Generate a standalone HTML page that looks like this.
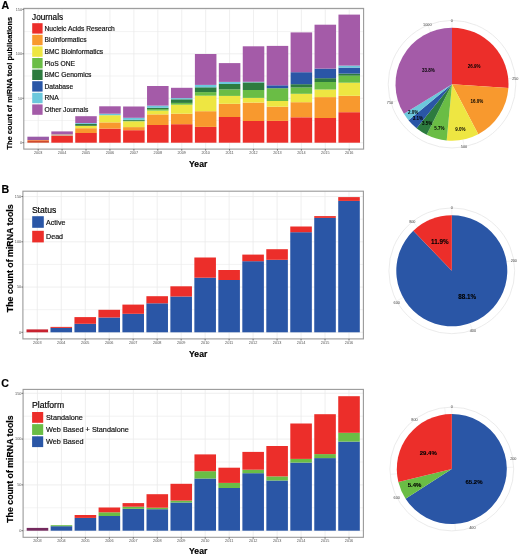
<!DOCTYPE html>
<html><head><meta charset="utf-8"><style>
html,body{margin:0;padding:0;background:#fff;}
body{width:520px;height:556px;overflow:hidden;font-family:"Liberation Sans", sans-serif;}
svg{display:block;filter:blur(0.3px);}
</style></head><body>
<svg width="520" height="556" viewBox="0 0 520 556" font-family='"Liberation Sans", sans-serif'>
<rect width="520" height="556" fill="#fff"/>
<text x="1.50" y="9.00" font-size="10.6" fill="#000" stroke="#000" stroke-width="0.18" text-anchor="start" font-weight="bold" >A</text>
<text x="1.60" y="192.90" font-size="10.6" fill="#000" stroke="#000" stroke-width="0.18" text-anchor="start" font-weight="bold" >B</text>
<text x="1.30" y="387.30" font-size="10.6" fill="#000" stroke="#000" stroke-width="0.18" text-anchor="start" font-weight="bold" >C</text>
<line x1="23.80" y1="120.47" x2="363.60" y2="120.47" stroke="#ebebeb" stroke-width="0.6"/>
<line x1="23.80" y1="76.02" x2="363.60" y2="76.02" stroke="#ebebeb" stroke-width="0.6"/>
<line x1="23.80" y1="31.57" x2="363.60" y2="31.57" stroke="#ebebeb" stroke-width="0.6"/>
<line x1="23.80" y1="142.70" x2="363.60" y2="142.70" stroke="#ebebeb" stroke-width="0.8"/>
<line x1="23.80" y1="98.25" x2="363.60" y2="98.25" stroke="#ebebeb" stroke-width="0.8"/>
<line x1="23.80" y1="53.80" x2="363.60" y2="53.80" stroke="#ebebeb" stroke-width="0.8"/>
<line x1="23.80" y1="9.35" x2="363.60" y2="9.35" stroke="#ebebeb" stroke-width="0.8"/>
<line x1="38.16" y1="8.40" x2="38.16" y2="149.10" stroke="#ebebeb" stroke-width="0.8"/>
<line x1="62.09" y1="8.40" x2="62.09" y2="149.10" stroke="#ebebeb" stroke-width="0.8"/>
<line x1="86.02" y1="8.40" x2="86.02" y2="149.10" stroke="#ebebeb" stroke-width="0.8"/>
<line x1="109.95" y1="8.40" x2="109.95" y2="149.10" stroke="#ebebeb" stroke-width="0.8"/>
<line x1="133.88" y1="8.40" x2="133.88" y2="149.10" stroke="#ebebeb" stroke-width="0.8"/>
<line x1="157.81" y1="8.40" x2="157.81" y2="149.10" stroke="#ebebeb" stroke-width="0.8"/>
<line x1="181.74" y1="8.40" x2="181.74" y2="149.10" stroke="#ebebeb" stroke-width="0.8"/>
<line x1="205.66" y1="8.40" x2="205.66" y2="149.10" stroke="#ebebeb" stroke-width="0.8"/>
<line x1="229.59" y1="8.40" x2="229.59" y2="149.10" stroke="#ebebeb" stroke-width="0.8"/>
<line x1="253.52" y1="8.40" x2="253.52" y2="149.10" stroke="#ebebeb" stroke-width="0.8"/>
<line x1="277.45" y1="8.40" x2="277.45" y2="149.10" stroke="#ebebeb" stroke-width="0.8"/>
<line x1="301.38" y1="8.40" x2="301.38" y2="149.10" stroke="#ebebeb" stroke-width="0.8"/>
<line x1="325.31" y1="8.40" x2="325.31" y2="149.10" stroke="#ebebeb" stroke-width="0.8"/>
<line x1="349.24" y1="8.40" x2="349.24" y2="149.10" stroke="#ebebeb" stroke-width="0.8"/>
<rect x="27.39" y="141.00" width="21.54" height="1.70" fill="#D04A2C" />
<rect x="27.39" y="140.00" width="21.54" height="1.00" fill="#F08A5A" />
<rect x="27.39" y="136.70" width="21.54" height="3.30" fill="#9A5CA8" />
<rect x="51.32" y="135.90" width="21.54" height="6.80" fill="#EC2E2A" />
<rect x="51.32" y="134.25" width="21.54" height="1.65" fill="#CDA48C" />
<rect x="51.32" y="131.40" width="21.54" height="2.85" fill="#A45BA8" />
<rect x="75.25" y="133.00" width="21.54" height="9.70" fill="#EC2E2A" />
<rect x="75.25" y="128.20" width="21.54" height="4.80" fill="#F8992E" />
<rect x="75.25" y="125.80" width="21.54" height="2.40" fill="#EEE642" />
<rect x="75.25" y="124.00" width="21.54" height="1.80" fill="#2D7B3F" />
<rect x="75.25" y="123.10" width="21.54" height="0.90" fill="#6CC8DC" />
<rect x="75.25" y="116.20" width="21.54" height="6.90" fill="#A45BA8" />
<rect x="99.18" y="128.70" width="21.54" height="14.00" fill="#EC2E2A" />
<rect x="99.18" y="122.40" width="21.54" height="6.30" fill="#F8992E" />
<rect x="99.18" y="115.20" width="21.54" height="7.20" fill="#EEE642" />
<rect x="99.18" y="113.70" width="21.54" height="1.50" fill="#6CC8DC" />
<rect x="99.18" y="106.30" width="21.54" height="7.40" fill="#A45BA8" />
<rect x="123.11" y="130.20" width="21.54" height="12.50" fill="#EC2E2A" />
<rect x="123.11" y="127.10" width="21.54" height="3.10" fill="#F8992E" />
<rect x="123.11" y="121.30" width="21.54" height="5.80" fill="#EEE642" />
<rect x="123.11" y="120.80" width="21.54" height="0.50" fill="#6ABD45" />
<rect x="123.11" y="119.80" width="21.54" height="1.00" fill="#2D7B3F" />
<rect x="123.11" y="117.80" width="21.54" height="2.00" fill="#6CC8DC" />
<rect x="123.11" y="106.50" width="21.54" height="11.30" fill="#A45BA8" />
<rect x="147.04" y="125.00" width="21.54" height="17.70" fill="#EC2E2A" />
<rect x="147.04" y="114.40" width="21.54" height="10.60" fill="#F8992E" />
<rect x="147.04" y="110.60" width="21.54" height="3.80" fill="#EEE642" />
<rect x="147.04" y="109.10" width="21.54" height="1.50" fill="#6ABD45" />
<rect x="147.04" y="107.70" width="21.54" height="1.40" fill="#2D7B3F" />
<rect x="147.04" y="105.60" width="21.54" height="2.10" fill="#6CC8DC" />
<rect x="147.04" y="86.00" width="21.54" height="19.60" fill="#A45BA8" />
<rect x="170.97" y="124.20" width="21.54" height="18.50" fill="#EC2E2A" />
<rect x="170.97" y="113.70" width="21.54" height="10.50" fill="#F8992E" />
<rect x="170.97" y="104.70" width="21.54" height="9.00" fill="#EEE642" />
<rect x="170.97" y="102.90" width="21.54" height="1.80" fill="#6ABD45" />
<rect x="170.97" y="99.30" width="21.54" height="3.60" fill="#2D7B3F" />
<rect x="170.97" y="98.10" width="21.54" height="1.20" fill="#6CC8DC" />
<rect x="170.97" y="87.80" width="21.54" height="10.30" fill="#A45BA8" />
<rect x="194.90" y="126.90" width="21.54" height="15.80" fill="#EC2E2A" />
<rect x="194.90" y="111.20" width="21.54" height="15.70" fill="#F8992E" />
<rect x="194.90" y="95.70" width="21.54" height="15.50" fill="#EEE642" />
<rect x="194.90" y="92.10" width="21.54" height="3.60" fill="#6ABD45" />
<rect x="194.90" y="87.30" width="21.54" height="4.80" fill="#2D7B3F" />
<rect x="194.90" y="84.90" width="21.54" height="2.40" fill="#6CC8DC" />
<rect x="194.90" y="54.00" width="21.54" height="30.90" fill="#A45BA8" />
<rect x="218.83" y="117.00" width="21.54" height="25.70" fill="#EC2E2A" />
<rect x="218.83" y="103.80" width="21.54" height="13.20" fill="#F8992E" />
<rect x="218.83" y="95.90" width="21.54" height="7.90" fill="#EEE642" />
<rect x="218.83" y="89.40" width="21.54" height="6.50" fill="#6ABD45" />
<rect x="218.83" y="84.00" width="21.54" height="5.40" fill="#2D7B3F" />
<rect x="218.83" y="81.90" width="21.54" height="2.10" fill="#6CC8DC" />
<rect x="218.83" y="63.10" width="21.54" height="18.80" fill="#A45BA8" />
<rect x="242.76" y="121.00" width="21.54" height="21.70" fill="#EC2E2A" />
<rect x="242.76" y="102.60" width="21.54" height="18.40" fill="#F8992E" />
<rect x="242.76" y="97.90" width="21.54" height="4.70" fill="#EEE642" />
<rect x="242.76" y="90.00" width="21.54" height="7.90" fill="#6ABD45" />
<rect x="242.76" y="82.40" width="21.54" height="7.60" fill="#2D7B3F" />
<rect x="242.76" y="81.80" width="21.54" height="0.60" fill="#6CC8DC" />
<rect x="242.76" y="46.30" width="21.54" height="35.50" fill="#A45BA8" />
<rect x="266.69" y="120.90" width="21.54" height="21.80" fill="#EC2E2A" />
<rect x="266.69" y="106.70" width="21.54" height="14.20" fill="#F8992E" />
<rect x="266.69" y="101.00" width="21.54" height="5.70" fill="#EEE642" />
<rect x="266.69" y="88.20" width="21.54" height="12.80" fill="#6ABD45" />
<rect x="266.69" y="85.30" width="21.54" height="2.90" fill="#2A56A6" />
<rect x="266.69" y="45.90" width="21.54" height="39.40" fill="#A45BA8" />
<rect x="290.61" y="117.30" width="21.54" height="25.40" fill="#EC2E2A" />
<rect x="290.61" y="102.20" width="21.54" height="15.10" fill="#F8992E" />
<rect x="290.61" y="93.80" width="21.54" height="8.40" fill="#EEE642" />
<rect x="290.61" y="87.50" width="21.54" height="6.30" fill="#6ABD45" />
<rect x="290.61" y="84.20" width="21.54" height="3.30" fill="#2D7B3F" />
<rect x="290.61" y="72.20" width="21.54" height="12.00" fill="#2A56A6" />
<rect x="290.61" y="32.40" width="21.54" height="39.80" fill="#A45BA8" />
<rect x="314.54" y="118.00" width="21.54" height="24.70" fill="#EC2E2A" />
<rect x="314.54" y="97.10" width="21.54" height="20.90" fill="#F8992E" />
<rect x="314.54" y="89.50" width="21.54" height="7.60" fill="#EEE642" />
<rect x="314.54" y="82.00" width="21.54" height="7.50" fill="#6ABD45" />
<rect x="314.54" y="78.20" width="21.54" height="3.80" fill="#2D7B3F" />
<rect x="314.54" y="68.60" width="21.54" height="9.60" fill="#2A56A6" />
<rect x="314.54" y="24.70" width="21.54" height="43.90" fill="#A45BA8" />
<rect x="338.47" y="112.20" width="21.54" height="30.50" fill="#EC2E2A" />
<rect x="338.47" y="95.80" width="21.54" height="16.40" fill="#F8992E" />
<rect x="338.47" y="82.70" width="21.54" height="13.10" fill="#EEE642" />
<rect x="338.47" y="75.70" width="21.54" height="7.00" fill="#6ABD45" />
<rect x="338.47" y="73.60" width="21.54" height="2.10" fill="#2D7B3F" />
<rect x="338.47" y="67.60" width="21.54" height="6.00" fill="#2A56A6" />
<rect x="338.47" y="65.60" width="21.54" height="2.00" fill="#6CC8DC" />
<rect x="338.47" y="14.60" width="21.54" height="51.00" fill="#A45BA8" />
<rect x="23.80" y="8.40" width="339.80" height="140.70" fill="none" stroke="#9a9a9a" stroke-width="1.1"/>
<line x1="22.20" y1="142.70" x2="23.80" y2="142.70" stroke="#444" stroke-width="0.7"/>
<text x="22.10" y="144.05" font-size="3.8" fill="#555" text-anchor="end" font-weight="normal" >0</text>
<line x1="22.20" y1="98.25" x2="23.80" y2="98.25" stroke="#444" stroke-width="0.7"/>
<text x="22.10" y="99.60" font-size="3.8" fill="#555" text-anchor="end" font-weight="normal" >50</text>
<line x1="22.20" y1="53.80" x2="23.80" y2="53.80" stroke="#444" stroke-width="0.7"/>
<text x="22.10" y="55.15" font-size="3.8" fill="#555" text-anchor="end" font-weight="normal" >100</text>
<line x1="22.20" y1="9.35" x2="23.80" y2="9.35" stroke="#444" stroke-width="0.7"/>
<text x="22.10" y="10.70" font-size="3.8" fill="#555" text-anchor="end" font-weight="normal" >150</text>
<line x1="38.16" y1="149.10" x2="38.16" y2="150.70" stroke="#444" stroke-width="0.7"/>
<text x="38.16" y="153.85" font-size="3.8" fill="#555" text-anchor="middle" font-weight="normal" >2003</text>
<line x1="62.09" y1="149.10" x2="62.09" y2="150.70" stroke="#444" stroke-width="0.7"/>
<text x="62.09" y="153.85" font-size="3.8" fill="#555" text-anchor="middle" font-weight="normal" >2004</text>
<line x1="86.02" y1="149.10" x2="86.02" y2="150.70" stroke="#444" stroke-width="0.7"/>
<text x="86.02" y="153.85" font-size="3.8" fill="#555" text-anchor="middle" font-weight="normal" >2005</text>
<line x1="109.95" y1="149.10" x2="109.95" y2="150.70" stroke="#444" stroke-width="0.7"/>
<text x="109.95" y="153.85" font-size="3.8" fill="#555" text-anchor="middle" font-weight="normal" >2006</text>
<line x1="133.88" y1="149.10" x2="133.88" y2="150.70" stroke="#444" stroke-width="0.7"/>
<text x="133.88" y="153.85" font-size="3.8" fill="#555" text-anchor="middle" font-weight="normal" >2007</text>
<line x1="157.81" y1="149.10" x2="157.81" y2="150.70" stroke="#444" stroke-width="0.7"/>
<text x="157.81" y="153.85" font-size="3.8" fill="#555" text-anchor="middle" font-weight="normal" >2008</text>
<line x1="181.74" y1="149.10" x2="181.74" y2="150.70" stroke="#444" stroke-width="0.7"/>
<text x="181.74" y="153.85" font-size="3.8" fill="#555" text-anchor="middle" font-weight="normal" >2009</text>
<line x1="205.66" y1="149.10" x2="205.66" y2="150.70" stroke="#444" stroke-width="0.7"/>
<text x="205.66" y="153.85" font-size="3.8" fill="#555" text-anchor="middle" font-weight="normal" >2010</text>
<line x1="229.59" y1="149.10" x2="229.59" y2="150.70" stroke="#444" stroke-width="0.7"/>
<text x="229.59" y="153.85" font-size="3.8" fill="#555" text-anchor="middle" font-weight="normal" >2011</text>
<line x1="253.52" y1="149.10" x2="253.52" y2="150.70" stroke="#444" stroke-width="0.7"/>
<text x="253.52" y="153.85" font-size="3.8" fill="#555" text-anchor="middle" font-weight="normal" >2012</text>
<line x1="277.45" y1="149.10" x2="277.45" y2="150.70" stroke="#444" stroke-width="0.7"/>
<text x="277.45" y="153.85" font-size="3.8" fill="#555" text-anchor="middle" font-weight="normal" >2013</text>
<line x1="301.38" y1="149.10" x2="301.38" y2="150.70" stroke="#444" stroke-width="0.7"/>
<text x="301.38" y="153.85" font-size="3.8" fill="#555" text-anchor="middle" font-weight="normal" >2014</text>
<line x1="325.31" y1="149.10" x2="325.31" y2="150.70" stroke="#444" stroke-width="0.7"/>
<text x="325.31" y="153.85" font-size="3.8" fill="#555" text-anchor="middle" font-weight="normal" >2015</text>
<line x1="349.24" y1="149.10" x2="349.24" y2="150.70" stroke="#444" stroke-width="0.7"/>
<text x="349.24" y="153.85" font-size="3.8" fill="#555" text-anchor="middle" font-weight="normal" >2016</text>
<text x="0.00" y="0.00" font-size="7.45" fill="#000" stroke="#000" stroke-width="0.18" text-anchor="middle" font-weight="bold" transform="translate(12.30,83.15) rotate(-90)">The count of miRNA tool publications</text>
<line x1="22.90" y1="309.68" x2="363.40" y2="309.68" stroke="#ebebeb" stroke-width="0.6"/>
<line x1="22.90" y1="264.43" x2="363.40" y2="264.43" stroke="#ebebeb" stroke-width="0.6"/>
<line x1="22.90" y1="219.18" x2="363.40" y2="219.18" stroke="#ebebeb" stroke-width="0.6"/>
<line x1="22.90" y1="332.30" x2="363.40" y2="332.30" stroke="#ebebeb" stroke-width="0.8"/>
<line x1="22.90" y1="287.05" x2="363.40" y2="287.05" stroke="#ebebeb" stroke-width="0.8"/>
<line x1="22.90" y1="241.80" x2="363.40" y2="241.80" stroke="#ebebeb" stroke-width="0.8"/>
<line x1="22.90" y1="196.55" x2="363.40" y2="196.55" stroke="#ebebeb" stroke-width="0.8"/>
<line x1="37.29" y1="191.20" x2="37.29" y2="338.90" stroke="#ebebeb" stroke-width="0.8"/>
<line x1="61.27" y1="191.20" x2="61.27" y2="338.90" stroke="#ebebeb" stroke-width="0.8"/>
<line x1="85.25" y1="191.20" x2="85.25" y2="338.90" stroke="#ebebeb" stroke-width="0.8"/>
<line x1="109.22" y1="191.20" x2="109.22" y2="338.90" stroke="#ebebeb" stroke-width="0.8"/>
<line x1="133.20" y1="191.20" x2="133.20" y2="338.90" stroke="#ebebeb" stroke-width="0.8"/>
<line x1="157.18" y1="191.20" x2="157.18" y2="338.90" stroke="#ebebeb" stroke-width="0.8"/>
<line x1="181.16" y1="191.20" x2="181.16" y2="338.90" stroke="#ebebeb" stroke-width="0.8"/>
<line x1="205.14" y1="191.20" x2="205.14" y2="338.90" stroke="#ebebeb" stroke-width="0.8"/>
<line x1="229.12" y1="191.20" x2="229.12" y2="338.90" stroke="#ebebeb" stroke-width="0.8"/>
<line x1="253.10" y1="191.20" x2="253.10" y2="338.90" stroke="#ebebeb" stroke-width="0.8"/>
<line x1="277.08" y1="191.20" x2="277.08" y2="338.90" stroke="#ebebeb" stroke-width="0.8"/>
<line x1="301.05" y1="191.20" x2="301.05" y2="338.90" stroke="#ebebeb" stroke-width="0.8"/>
<line x1="325.03" y1="191.20" x2="325.03" y2="338.90" stroke="#ebebeb" stroke-width="0.8"/>
<line x1="349.01" y1="191.20" x2="349.01" y2="338.90" stroke="#ebebeb" stroke-width="0.8"/>
<rect x="26.50" y="329.40" width="21.58" height="2.90" fill="#C8222F" />
<rect x="50.48" y="327.90" width="21.58" height="4.40" fill="#2A56A6" />
<rect x="50.48" y="326.90" width="21.58" height="1.00" fill="#EC2E2A" />
<rect x="74.45" y="323.80" width="21.58" height="8.50" fill="#2A56A6" />
<rect x="74.45" y="317.10" width="21.58" height="6.70" fill="#EC2E2A" />
<rect x="98.43" y="317.50" width="21.58" height="14.80" fill="#2A56A6" />
<rect x="98.43" y="309.80" width="21.58" height="7.70" fill="#EC2E2A" />
<rect x="122.41" y="313.80" width="21.58" height="18.50" fill="#2A56A6" />
<rect x="122.41" y="304.60" width="21.58" height="9.20" fill="#EC2E2A" />
<rect x="146.39" y="303.30" width="21.58" height="29.00" fill="#2A56A6" />
<rect x="146.39" y="296.20" width="21.58" height="7.10" fill="#EC2E2A" />
<rect x="170.37" y="296.50" width="21.58" height="35.80" fill="#2A56A6" />
<rect x="170.37" y="286.30" width="21.58" height="10.20" fill="#EC2E2A" />
<rect x="194.35" y="277.70" width="21.58" height="54.60" fill="#2A56A6" />
<rect x="194.35" y="257.50" width="21.58" height="20.20" fill="#EC2E2A" />
<rect x="218.33" y="280.00" width="21.58" height="52.30" fill="#2A56A6" />
<rect x="218.33" y="270.00" width="21.58" height="10.00" fill="#EC2E2A" />
<rect x="242.31" y="261.20" width="21.58" height="71.10" fill="#2A56A6" />
<rect x="242.31" y="254.60" width="21.58" height="6.60" fill="#EC2E2A" />
<rect x="266.29" y="259.80" width="21.58" height="72.50" fill="#2A56A6" />
<rect x="266.29" y="249.20" width="21.58" height="10.60" fill="#EC2E2A" />
<rect x="290.26" y="232.20" width="21.58" height="100.10" fill="#2A56A6" />
<rect x="290.26" y="226.50" width="21.58" height="5.70" fill="#EC2E2A" />
<rect x="314.24" y="217.90" width="21.58" height="114.40" fill="#2A56A6" />
<rect x="314.24" y="216.10" width="21.58" height="1.80" fill="#EC2E2A" />
<rect x="338.22" y="200.90" width="21.58" height="131.40" fill="#2A56A6" />
<rect x="338.22" y="197.10" width="21.58" height="3.80" fill="#EC2E2A" />
<rect x="22.90" y="191.20" width="340.50" height="147.70" fill="none" stroke="#9a9a9a" stroke-width="1.1"/>
<line x1="21.30" y1="332.30" x2="22.90" y2="332.30" stroke="#444" stroke-width="0.7"/>
<text x="21.20" y="333.65" font-size="3.8" fill="#555" text-anchor="end" font-weight="normal" >0</text>
<line x1="21.30" y1="287.05" x2="22.90" y2="287.05" stroke="#444" stroke-width="0.7"/>
<text x="21.20" y="288.40" font-size="3.8" fill="#555" text-anchor="end" font-weight="normal" >50</text>
<line x1="21.30" y1="241.80" x2="22.90" y2="241.80" stroke="#444" stroke-width="0.7"/>
<text x="21.20" y="243.15" font-size="3.8" fill="#555" text-anchor="end" font-weight="normal" >100</text>
<line x1="21.30" y1="196.55" x2="22.90" y2="196.55" stroke="#444" stroke-width="0.7"/>
<text x="21.20" y="197.90" font-size="3.8" fill="#555" text-anchor="end" font-weight="normal" >150</text>
<line x1="37.29" y1="338.90" x2="37.29" y2="340.50" stroke="#444" stroke-width="0.7"/>
<text x="37.29" y="343.65" font-size="3.8" fill="#555" text-anchor="middle" font-weight="normal" >2003</text>
<line x1="61.27" y1="338.90" x2="61.27" y2="340.50" stroke="#444" stroke-width="0.7"/>
<text x="61.27" y="343.65" font-size="3.8" fill="#555" text-anchor="middle" font-weight="normal" >2004</text>
<line x1="85.25" y1="338.90" x2="85.25" y2="340.50" stroke="#444" stroke-width="0.7"/>
<text x="85.25" y="343.65" font-size="3.8" fill="#555" text-anchor="middle" font-weight="normal" >2005</text>
<line x1="109.22" y1="338.90" x2="109.22" y2="340.50" stroke="#444" stroke-width="0.7"/>
<text x="109.22" y="343.65" font-size="3.8" fill="#555" text-anchor="middle" font-weight="normal" >2006</text>
<line x1="133.20" y1="338.90" x2="133.20" y2="340.50" stroke="#444" stroke-width="0.7"/>
<text x="133.20" y="343.65" font-size="3.8" fill="#555" text-anchor="middle" font-weight="normal" >2007</text>
<line x1="157.18" y1="338.90" x2="157.18" y2="340.50" stroke="#444" stroke-width="0.7"/>
<text x="157.18" y="343.65" font-size="3.8" fill="#555" text-anchor="middle" font-weight="normal" >2008</text>
<line x1="181.16" y1="338.90" x2="181.16" y2="340.50" stroke="#444" stroke-width="0.7"/>
<text x="181.16" y="343.65" font-size="3.8" fill="#555" text-anchor="middle" font-weight="normal" >2009</text>
<line x1="205.14" y1="338.90" x2="205.14" y2="340.50" stroke="#444" stroke-width="0.7"/>
<text x="205.14" y="343.65" font-size="3.8" fill="#555" text-anchor="middle" font-weight="normal" >2010</text>
<line x1="229.12" y1="338.90" x2="229.12" y2="340.50" stroke="#444" stroke-width="0.7"/>
<text x="229.12" y="343.65" font-size="3.8" fill="#555" text-anchor="middle" font-weight="normal" >2011</text>
<line x1="253.10" y1="338.90" x2="253.10" y2="340.50" stroke="#444" stroke-width="0.7"/>
<text x="253.10" y="343.65" font-size="3.8" fill="#555" text-anchor="middle" font-weight="normal" >2012</text>
<line x1="277.08" y1="338.90" x2="277.08" y2="340.50" stroke="#444" stroke-width="0.7"/>
<text x="277.08" y="343.65" font-size="3.8" fill="#555" text-anchor="middle" font-weight="normal" >2013</text>
<line x1="301.05" y1="338.90" x2="301.05" y2="340.50" stroke="#444" stroke-width="0.7"/>
<text x="301.05" y="343.65" font-size="3.8" fill="#555" text-anchor="middle" font-weight="normal" >2014</text>
<line x1="325.03" y1="338.90" x2="325.03" y2="340.50" stroke="#444" stroke-width="0.7"/>
<text x="325.03" y="343.65" font-size="3.8" fill="#555" text-anchor="middle" font-weight="normal" >2015</text>
<line x1="349.01" y1="338.90" x2="349.01" y2="340.50" stroke="#444" stroke-width="0.7"/>
<text x="349.01" y="343.65" font-size="3.8" fill="#555" text-anchor="middle" font-weight="normal" >2016</text>
<text x="0.00" y="0.00" font-size="8.82" fill="#000" stroke="#000" stroke-width="0.18" text-anchor="middle" font-weight="bold" transform="translate(12.60,258.30) rotate(-90)">The count of miRNA tools</text>
<line x1="23.10" y1="507.80" x2="363.40" y2="507.80" stroke="#ebebeb" stroke-width="0.6"/>
<line x1="23.10" y1="462.00" x2="363.40" y2="462.00" stroke="#ebebeb" stroke-width="0.6"/>
<line x1="23.10" y1="416.20" x2="363.40" y2="416.20" stroke="#ebebeb" stroke-width="0.6"/>
<line x1="23.10" y1="530.70" x2="363.40" y2="530.70" stroke="#ebebeb" stroke-width="0.8"/>
<line x1="23.10" y1="484.90" x2="363.40" y2="484.90" stroke="#ebebeb" stroke-width="0.8"/>
<line x1="23.10" y1="439.10" x2="363.40" y2="439.10" stroke="#ebebeb" stroke-width="0.8"/>
<line x1="23.10" y1="393.30" x2="363.40" y2="393.30" stroke="#ebebeb" stroke-width="0.8"/>
<line x1="37.48" y1="389.40" x2="37.48" y2="537.30" stroke="#ebebeb" stroke-width="0.8"/>
<line x1="61.44" y1="389.40" x2="61.44" y2="537.30" stroke="#ebebeb" stroke-width="0.8"/>
<line x1="85.41" y1="389.40" x2="85.41" y2="537.30" stroke="#ebebeb" stroke-width="0.8"/>
<line x1="109.37" y1="389.40" x2="109.37" y2="537.30" stroke="#ebebeb" stroke-width="0.8"/>
<line x1="133.34" y1="389.40" x2="133.34" y2="537.30" stroke="#ebebeb" stroke-width="0.8"/>
<line x1="157.30" y1="389.40" x2="157.30" y2="537.30" stroke="#ebebeb" stroke-width="0.8"/>
<line x1="181.27" y1="389.40" x2="181.27" y2="537.30" stroke="#ebebeb" stroke-width="0.8"/>
<line x1="205.23" y1="389.40" x2="205.23" y2="537.30" stroke="#ebebeb" stroke-width="0.8"/>
<line x1="229.20" y1="389.40" x2="229.20" y2="537.30" stroke="#ebebeb" stroke-width="0.8"/>
<line x1="253.16" y1="389.40" x2="253.16" y2="537.30" stroke="#ebebeb" stroke-width="0.8"/>
<line x1="277.13" y1="389.40" x2="277.13" y2="537.30" stroke="#ebebeb" stroke-width="0.8"/>
<line x1="301.09" y1="389.40" x2="301.09" y2="537.30" stroke="#ebebeb" stroke-width="0.8"/>
<line x1="325.06" y1="389.40" x2="325.06" y2="537.30" stroke="#ebebeb" stroke-width="0.8"/>
<line x1="349.02" y1="389.40" x2="349.02" y2="537.30" stroke="#ebebeb" stroke-width="0.8"/>
<rect x="26.69" y="527.90" width="21.57" height="2.80" fill="#742A5E" />
<rect x="50.66" y="526.20" width="21.57" height="4.50" fill="#2A56A6" />
<rect x="50.66" y="525.20" width="21.57" height="1.00" fill="#6ABD45" />
<rect x="74.62" y="517.90" width="21.57" height="12.80" fill="#2A56A6" />
<rect x="74.62" y="515.00" width="21.57" height="2.90" fill="#EC2E2A" />
<rect x="98.59" y="516.00" width="21.57" height="14.70" fill="#2A56A6" />
<rect x="98.59" y="512.30" width="21.57" height="3.70" fill="#6ABD45" />
<rect x="98.59" y="507.50" width="21.57" height="4.80" fill="#EC2E2A" />
<rect x="122.55" y="508.80" width="21.57" height="21.90" fill="#2A56A6" />
<rect x="122.55" y="506.70" width="21.57" height="2.10" fill="#6ABD45" />
<rect x="122.55" y="503.10" width="21.57" height="3.60" fill="#EC2E2A" />
<rect x="146.52" y="509.20" width="21.57" height="21.50" fill="#2A56A6" />
<rect x="146.52" y="507.70" width="21.57" height="1.50" fill="#6ABD45" />
<rect x="146.52" y="494.20" width="21.57" height="13.50" fill="#EC2E2A" />
<rect x="170.48" y="502.50" width="21.57" height="28.20" fill="#2A56A6" />
<rect x="170.48" y="500.60" width="21.57" height="1.90" fill="#6ABD45" />
<rect x="170.48" y="483.80" width="21.57" height="16.80" fill="#EC2E2A" />
<rect x="194.45" y="478.50" width="21.57" height="52.20" fill="#2A56A6" />
<rect x="194.45" y="471.20" width="21.57" height="7.30" fill="#6ABD45" />
<rect x="194.45" y="454.40" width="21.57" height="16.80" fill="#EC2E2A" />
<rect x="218.41" y="488.00" width="21.57" height="42.70" fill="#2A56A6" />
<rect x="218.41" y="482.90" width="21.57" height="5.10" fill="#6ABD45" />
<rect x="218.41" y="467.70" width="21.57" height="15.20" fill="#EC2E2A" />
<rect x="242.38" y="473.20" width="21.57" height="57.50" fill="#2A56A6" />
<rect x="242.38" y="469.70" width="21.57" height="3.50" fill="#6ABD45" />
<rect x="242.38" y="451.90" width="21.57" height="17.80" fill="#EC2E2A" />
<rect x="266.34" y="480.50" width="21.57" height="50.20" fill="#2A56A6" />
<rect x="266.34" y="476.40" width="21.57" height="4.10" fill="#6ABD45" />
<rect x="266.34" y="446.00" width="21.57" height="30.40" fill="#EC2E2A" />
<rect x="290.31" y="462.60" width="21.57" height="68.10" fill="#2A56A6" />
<rect x="290.31" y="458.90" width="21.57" height="3.70" fill="#6ABD45" />
<rect x="290.31" y="423.50" width="21.57" height="35.40" fill="#EC2E2A" />
<rect x="314.27" y="458.10" width="21.57" height="72.60" fill="#2A56A6" />
<rect x="314.27" y="454.10" width="21.57" height="4.00" fill="#6ABD45" />
<rect x="314.27" y="414.20" width="21.57" height="39.90" fill="#EC2E2A" />
<rect x="338.24" y="441.60" width="21.57" height="89.10" fill="#2A56A6" />
<rect x="338.24" y="432.80" width="21.57" height="8.80" fill="#6ABD45" />
<rect x="338.24" y="396.20" width="21.57" height="36.60" fill="#EC2E2A" />
<rect x="23.10" y="389.40" width="340.30" height="147.90" fill="none" stroke="#9a9a9a" stroke-width="1.1"/>
<line x1="21.50" y1="530.70" x2="23.10" y2="530.70" stroke="#444" stroke-width="0.7"/>
<text x="21.40" y="532.05" font-size="3.8" fill="#555" text-anchor="end" font-weight="normal" >0</text>
<line x1="21.50" y1="484.90" x2="23.10" y2="484.90" stroke="#444" stroke-width="0.7"/>
<text x="21.40" y="486.25" font-size="3.8" fill="#555" text-anchor="end" font-weight="normal" >50</text>
<line x1="21.50" y1="439.10" x2="23.10" y2="439.10" stroke="#444" stroke-width="0.7"/>
<text x="21.40" y="440.45" font-size="3.8" fill="#555" text-anchor="end" font-weight="normal" >100</text>
<line x1="21.50" y1="393.30" x2="23.10" y2="393.30" stroke="#444" stroke-width="0.7"/>
<text x="21.40" y="394.65" font-size="3.8" fill="#555" text-anchor="end" font-weight="normal" >150</text>
<line x1="37.48" y1="537.30" x2="37.48" y2="538.90" stroke="#444" stroke-width="0.7"/>
<text x="37.48" y="542.15" font-size="3.8" fill="#555" text-anchor="middle" font-weight="normal" >2003</text>
<line x1="61.44" y1="537.30" x2="61.44" y2="538.90" stroke="#444" stroke-width="0.7"/>
<text x="61.44" y="542.15" font-size="3.8" fill="#555" text-anchor="middle" font-weight="normal" >2004</text>
<line x1="85.41" y1="537.30" x2="85.41" y2="538.90" stroke="#444" stroke-width="0.7"/>
<text x="85.41" y="542.15" font-size="3.8" fill="#555" text-anchor="middle" font-weight="normal" >2005</text>
<line x1="109.37" y1="537.30" x2="109.37" y2="538.90" stroke="#444" stroke-width="0.7"/>
<text x="109.37" y="542.15" font-size="3.8" fill="#555" text-anchor="middle" font-weight="normal" >2006</text>
<line x1="133.34" y1="537.30" x2="133.34" y2="538.90" stroke="#444" stroke-width="0.7"/>
<text x="133.34" y="542.15" font-size="3.8" fill="#555" text-anchor="middle" font-weight="normal" >2007</text>
<line x1="157.30" y1="537.30" x2="157.30" y2="538.90" stroke="#444" stroke-width="0.7"/>
<text x="157.30" y="542.15" font-size="3.8" fill="#555" text-anchor="middle" font-weight="normal" >2008</text>
<line x1="181.27" y1="537.30" x2="181.27" y2="538.90" stroke="#444" stroke-width="0.7"/>
<text x="181.27" y="542.15" font-size="3.8" fill="#555" text-anchor="middle" font-weight="normal" >2009</text>
<line x1="205.23" y1="537.30" x2="205.23" y2="538.90" stroke="#444" stroke-width="0.7"/>
<text x="205.23" y="542.15" font-size="3.8" fill="#555" text-anchor="middle" font-weight="normal" >2010</text>
<line x1="229.20" y1="537.30" x2="229.20" y2="538.90" stroke="#444" stroke-width="0.7"/>
<text x="229.20" y="542.15" font-size="3.8" fill="#555" text-anchor="middle" font-weight="normal" >2011</text>
<line x1="253.16" y1="537.30" x2="253.16" y2="538.90" stroke="#444" stroke-width="0.7"/>
<text x="253.16" y="542.15" font-size="3.8" fill="#555" text-anchor="middle" font-weight="normal" >2012</text>
<line x1="277.13" y1="537.30" x2="277.13" y2="538.90" stroke="#444" stroke-width="0.7"/>
<text x="277.13" y="542.15" font-size="3.8" fill="#555" text-anchor="middle" font-weight="normal" >2013</text>
<line x1="301.09" y1="537.30" x2="301.09" y2="538.90" stroke="#444" stroke-width="0.7"/>
<text x="301.09" y="542.15" font-size="3.8" fill="#555" text-anchor="middle" font-weight="normal" >2014</text>
<line x1="325.06" y1="537.30" x2="325.06" y2="538.90" stroke="#444" stroke-width="0.7"/>
<text x="325.06" y="542.15" font-size="3.8" fill="#555" text-anchor="middle" font-weight="normal" >2015</text>
<line x1="349.02" y1="537.30" x2="349.02" y2="538.90" stroke="#444" stroke-width="0.7"/>
<text x="349.02" y="542.15" font-size="3.8" fill="#555" text-anchor="middle" font-weight="normal" >2016</text>
<text x="0.00" y="0.00" font-size="8.78" fill="#000" stroke="#000" stroke-width="0.18" text-anchor="middle" font-weight="bold" transform="translate(12.60,469.10) rotate(-90)">The count of miRNA tools</text>
<text x="198.20" y="166.70" font-size="8.6" fill="#000" stroke="#000" stroke-width="0.18" text-anchor="middle" font-weight="bold" >Year</text>
<text x="198.20" y="356.50" font-size="8.6" fill="#000" stroke="#000" stroke-width="0.18" text-anchor="middle" font-weight="bold" >Year</text>
<text x="198.20" y="554.40" font-size="8.6" fill="#000" stroke="#000" stroke-width="0.18" text-anchor="middle" font-weight="bold" >Year</text>
<text x="32.10" y="19.60" font-size="8.2" fill="#000" stroke="#000" stroke-width="0.18" text-anchor="start" font-weight="normal" >Journals</text>
<rect x="32.20" y="23.20" width="10.40" height="10.40" fill="#EC2E2A" />
<text x="44.50" y="30.75" font-size="6.7" fill="#111" stroke="#111" stroke-width="0.18" text-anchor="start" font-weight="normal" >Nucleic Acids Research</text>
<rect x="32.20" y="34.80" width="10.40" height="10.40" fill="#F8992E" />
<text x="44.50" y="42.35" font-size="6.7" fill="#111" stroke="#111" stroke-width="0.18" text-anchor="start" font-weight="normal" >Bioinformatics</text>
<rect x="32.20" y="46.40" width="10.40" height="10.40" fill="#EEE642" />
<text x="44.50" y="53.95" font-size="6.7" fill="#111" stroke="#111" stroke-width="0.18" text-anchor="start" font-weight="normal" >BMC Bioinformatics</text>
<rect x="32.20" y="58.00" width="10.40" height="10.40" fill="#6ABD45" />
<text x="44.50" y="65.55" font-size="6.7" fill="#111" stroke="#111" stroke-width="0.18" text-anchor="start" font-weight="normal" >PloS ONE</text>
<rect x="32.20" y="69.60" width="10.40" height="10.40" fill="#2D7B3F" />
<text x="44.50" y="77.15" font-size="6.7" fill="#111" stroke="#111" stroke-width="0.18" text-anchor="start" font-weight="normal" >BMC Genomics</text>
<rect x="32.20" y="81.20" width="10.40" height="10.40" fill="#2A56A6" />
<text x="44.50" y="88.75" font-size="6.7" fill="#111" stroke="#111" stroke-width="0.18" text-anchor="start" font-weight="normal" >Database</text>
<rect x="32.20" y="92.80" width="10.40" height="10.40" fill="#6CC8DC" />
<text x="44.50" y="100.35" font-size="6.7" fill="#111" stroke="#111" stroke-width="0.18" text-anchor="start" font-weight="normal" >RNA</text>
<rect x="32.20" y="104.40" width="10.40" height="10.40" fill="#A45BA8" />
<text x="44.50" y="111.95" font-size="6.7" fill="#111" stroke="#111" stroke-width="0.18" text-anchor="start" font-weight="normal" >Other Journals</text>
<text x="31.90" y="212.60" font-size="8.6" fill="#000" stroke="#000" stroke-width="0.18" text-anchor="start" font-weight="normal" >Status</text>
<rect x="32.20" y="216.20" width="11.60" height="11.60" fill="#2A56A6" />
<text x="46.10" y="224.50" font-size="7.1" fill="#111" stroke="#111" stroke-width="0.18" text-anchor="start" font-weight="normal" >Active</text>
<rect x="32.20" y="230.80" width="11.60" height="11.60" fill="#EC2E2A" />
<text x="46.10" y="239.10" font-size="7.1" fill="#111" stroke="#111" stroke-width="0.18" text-anchor="start" font-weight="normal" >Dead</text>
<text x="32.10" y="407.80" font-size="8.6" fill="#000" stroke="#000" stroke-width="0.18" text-anchor="start" font-weight="normal" >Platform</text>
<rect x="32.10" y="412.00" width="11.10" height="10.80" fill="#EC2E2A" />
<text x="46.00" y="419.90" font-size="7.3" fill="#111" stroke="#111" stroke-width="0.18" text-anchor="start" font-weight="normal" >Standalone</text>
<rect x="32.10" y="424.15" width="11.10" height="10.80" fill="#6ABD45" />
<text x="46.00" y="432.05" font-size="7.3" fill="#111" stroke="#111" stroke-width="0.18" text-anchor="start" font-weight="normal" >Web Based + Standalone</text>
<rect x="32.10" y="436.30" width="11.10" height="10.80" fill="#2A56A6" />
<text x="46.00" y="444.20" font-size="7.3" fill="#111" stroke="#111" stroke-width="0.18" text-anchor="start" font-weight="normal" >Web Based</text>
<circle cx="452.0" cy="84.2" r="63.8" fill="none" stroke="#e6e6e6" stroke-width="0.8"/>
<line x1="452.00" y1="84.20" x2="452.00" y2="20.40" stroke="#ebebeb" stroke-width="0.6"/>
<line x1="452.00" y1="84.20" x2="515.50" y2="78.00" stroke="#ebebeb" stroke-width="0.6"/>
<line x1="452.00" y1="84.20" x2="464.33" y2="146.80" stroke="#ebebeb" stroke-width="0.6"/>
<line x1="452.00" y1="84.20" x2="390.90" y2="102.55" stroke="#ebebeb" stroke-width="0.6"/>
<line x1="452.00" y1="84.20" x2="427.80" y2="25.17" stroke="#ebebeb" stroke-width="0.6"/>
<path d="M452.0,84.2 L452.00,27.70 A56.5,56.5 0 0 1 508.37,87.96 Z" fill="#EC2E2A"/>
<path d="M452.0,84.2 L508.37,87.96 A56.5,56.5 0 0 1 478.28,134.22 Z" fill="#F8992E"/>
<path d="M452.0,84.2 L478.28,134.22 A56.5,56.5 0 0 1 446.68,140.45 Z" fill="#EEE642"/>
<path d="M452.0,84.2 L446.68,140.45 A56.5,56.5 0 0 1 426.67,134.70 Z" fill="#6ABD45"/>
<path d="M452.0,84.2 L426.67,134.70 A56.5,56.5 0 0 1 416.54,128.18 Z" fill="#2D7B3F"/>
<path d="M452.0,84.2 L416.54,128.18 A56.5,56.5 0 0 1 408.47,120.21 Z" fill="#2A56A6"/>
<path d="M452.0,84.2 L408.47,120.21 A56.5,56.5 0 0 1 403.92,113.87 Z" fill="#6CC8DC"/>
<path d="M452.0,84.2 L403.92,113.87 A56.5,56.5 0 0 1 452.00,27.70 Z" fill="#A45BA8"/>
<text x="451.80" y="21.75" font-size="3.8" fill="#444" text-anchor="middle" font-weight="normal" >0</text>
<text x="515.30" y="79.65" font-size="3.8" fill="#444" text-anchor="middle" font-weight="normal" >250</text>
<text x="464.00" y="148.35" font-size="3.8" fill="#444" text-anchor="middle" font-weight="normal" >500</text>
<text x="390.00" y="104.15" font-size="3.8" fill="#444" text-anchor="middle" font-weight="normal" >750</text>
<text x="427.30" y="26.35" font-size="3.8" fill="#444" text-anchor="middle" font-weight="normal" >1000</text>
<text x="474.20" y="67.72" font-size="4.5" fill="#000" text-anchor="middle" font-weight="bold" >26.9%</text>
<text x="476.80" y="102.62" font-size="4.5" fill="#000" text-anchor="middle" font-weight="bold" >16.0%</text>
<text x="460.40" y="131.02" font-size="4.5" fill="#000" text-anchor="middle" font-weight="bold" >9.0%</text>
<text x="439.40" y="129.92" font-size="4.5" fill="#000" text-anchor="middle" font-weight="bold" >5.7%</text>
<text x="427.20" y="125.22" font-size="4.5" fill="#000" text-anchor="middle" font-weight="bold" >3.5%</text>
<text x="417.80" y="120.22" font-size="4.5" fill="#000" text-anchor="middle" font-weight="bold" >3.1%</text>
<text x="413.10" y="113.82" font-size="4.5" fill="#000" text-anchor="middle" font-weight="bold" >2.0%</text>
<text x="428.50" y="72.32" font-size="4.5" fill="#000" text-anchor="middle" font-weight="bold" >33.8%</text>
<circle cx="451.8" cy="270.8" r="62.9" fill="none" stroke="#e6e6e6" stroke-width="0.8"/>
<line x1="451.80" y1="270.80" x2="451.80" y2="207.90" stroke="#ebebeb" stroke-width="0.6"/>
<line x1="451.80" y1="270.80" x2="513.83" y2="260.36" stroke="#ebebeb" stroke-width="0.6"/>
<line x1="451.80" y1="270.80" x2="472.39" y2="330.24" stroke="#ebebeb" stroke-width="0.6"/>
<line x1="451.80" y1="270.80" x2="396.61" y2="300.97" stroke="#ebebeb" stroke-width="0.6"/>
<line x1="451.80" y1="270.80" x2="412.89" y2="221.38" stroke="#ebebeb" stroke-width="0.6"/>
<path d="M451.8,270.8 L451.80,215.30 A55.5,55.5 0 1 1 413.30,230.82 Z" fill="#2A56A6"/>
<path d="M451.8,270.8 L413.30,230.82 A55.5,55.5 0 0 1 451.80,215.30 Z" fill="#EC2E2A"/>
<text x="451.90" y="209.05" font-size="3.8" fill="#444" text-anchor="middle" font-weight="normal" >0</text>
<text x="513.80" y="261.75" font-size="3.8" fill="#444" text-anchor="middle" font-weight="normal" >200</text>
<text x="472.90" y="331.55" font-size="3.8" fill="#444" text-anchor="middle" font-weight="normal" >400</text>
<text x="396.70" y="303.55" font-size="3.8" fill="#444" text-anchor="middle" font-weight="normal" >600</text>
<text x="412.30" y="223.15" font-size="3.8" fill="#444" text-anchor="middle" font-weight="normal" >800</text>
<text x="439.80" y="243.87" font-size="6.3" fill="#000" stroke="#000" stroke-width="0.1" text-anchor="middle" font-weight="bold" >11.9%</text>
<text x="467.20" y="299.37" font-size="6.3" fill="#000" stroke="#000" stroke-width="0.1" text-anchor="middle" font-weight="bold" >88.1%</text>
<circle cx="451.8" cy="469" r="61.9" fill="none" stroke="#e6e6e6" stroke-width="0.8"/>
<line x1="451.80" y1="469.00" x2="451.80" y2="407.10" stroke="#ebebeb" stroke-width="0.6"/>
<line x1="451.80" y1="469.00" x2="513.67" y2="467.21" stroke="#ebebeb" stroke-width="0.6"/>
<line x1="451.80" y1="469.00" x2="455.38" y2="530.80" stroke="#ebebeb" stroke-width="0.6"/>
<line x1="451.80" y1="469.00" x2="390.13" y2="474.36" stroke="#ebebeb" stroke-width="0.6"/>
<line x1="451.80" y1="469.00" x2="444.66" y2="407.51" stroke="#ebebeb" stroke-width="0.6"/>
<path d="M451.8,469 L451.80,414.00 A55,55 0 1 1 405.55,498.76 Z" fill="#2A56A6"/>
<path d="M451.8,469 L405.55,498.76 A55,55 0 0 1 398.36,482.01 Z" fill="#6ABD45"/>
<path d="M451.8,469 L398.36,482.01 A55,55 0 0 1 451.80,414.00 Z" fill="#EC2E2A"/>
<text x="451.90" y="408.45" font-size="3.8" fill="#444" text-anchor="middle" font-weight="normal" >0</text>
<text x="513.30" y="460.45" font-size="3.8" fill="#444" text-anchor="middle" font-weight="normal" >200</text>
<text x="472.40" y="529.05" font-size="3.8" fill="#444" text-anchor="middle" font-weight="normal" >400</text>
<text x="396.70" y="499.45" font-size="3.8" fill="#444" text-anchor="middle" font-weight="normal" >600</text>
<text x="414.50" y="421.35" font-size="3.8" fill="#444" text-anchor="middle" font-weight="normal" >800</text>
<text x="428.25" y="454.91" font-size="6.0" fill="#000" stroke="#000" stroke-width="0.1" text-anchor="middle" font-weight="bold" >29.4%</text>
<text x="414.50" y="486.56" font-size="6.0" fill="#000" stroke="#000" stroke-width="0.1" text-anchor="middle" font-weight="bold" >5.4%</text>
<text x="474.00" y="484.16" font-size="6.0" fill="#000" stroke="#000" stroke-width="0.1" text-anchor="middle" font-weight="bold" >65.2%</text>
</svg>
</body></html>
